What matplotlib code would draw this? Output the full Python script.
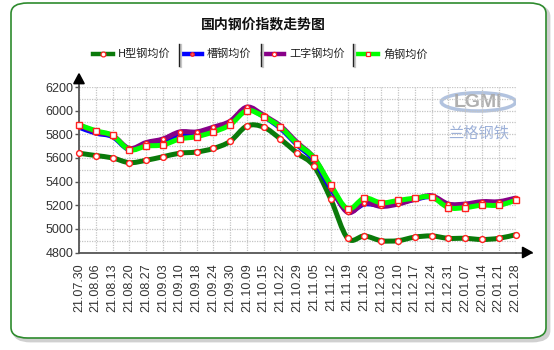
import matplotlib
matplotlib.use("Agg")
import matplotlib.pyplot as plt
from matplotlib.patches import FancyBboxPatch, PathPatch, Ellipse, Polygon
from matplotlib.path import Path
from matplotlib.lines import Line2D
import numpy as np

plt.rcParams['font.family'] = ['Liberation Sans', 'Noto Sans CJK SC', 'DejaVu Sans']

# ---- data ----
dates = ['21.07.30', '21.08.06', '21.08.13', '21.08.20', '21.08.27', '21.09.03',
         '21.09.10', '21.09.18', '21.09.24', '21.09.30', '21.10.09', '21.10.15',
         '21.10.22', '21.10.29', '21.11.05', '21.11.12', '21.11.19', '21.11.26',
         '21.12.03', '21.12.10', '21.12.17', '21.12.24', '21.12.31', '22.01.07',
         '22.01.14', '22.01.21', '22.01.28']
h_beam = [5640, 5620, 5600, 5560, 5580, 5610, 5640, 5650, 5680, 5740, 5870, 5860,
          5760, 5640, 5530, 5250, 4920, 4940, 4900, 4900, 4930, 4940, 4920, 4920,
          4910, 4920, 4950]
channel = [5860, 5810, 5780, 5670, 5720, 5740, 5800, 5800, 5840, 5900, 6010, 5950,
           5850, 5710, 5580, 5340, 5150, 5210, 5200, 5220, 5250, 5270, 5200, 5200,
           5220, 5220, 5250]
i_beam = [5880, 5820, 5790, 5680, 5730, 5760, 5820, 5820, 5860, 5910, 6030, 5960,
          5870, 5730, 5600, 5360, 5140, 5220, 5190, 5210, 5250, 5280, 5210, 5210,
          5230, 5230, 5260]
angle = [5880, 5830, 5790, 5670, 5700, 5710, 5760, 5780, 5820, 5880, 6000, 5950,
         5860, 5720, 5600, 5370, 5170, 5260, 5220, 5240, 5260, 5270, 5180, 5180,
         5200, 5200, 5240]
series_names = ['H型钢均价', '槽钢均价', '工字钢均价', '角钢均价']
title = '国内钢价指数走势图'
y_ticks = [4800, 5000, 5200, 5400, 5600, 5800, 6000, 6200]

W, H = 554, 350
fig = plt.figure(figsize=(W / 100, H / 100), dpi=100)
fig.patch.set_facecolor('white')


def fx(x):
    return x / W


def fy(y):
    return 1 - y / H


# rounded frame with soft shadow
shadow = FancyBboxPatch((fx(14), fy(341)), fx(535), 335 / H,
                        boxstyle="round,pad=0,rounding_size=0.03",
                        transform=fig.transFigure, facecolor='#d0d0d0',
                        edgecolor='#d0d0d0', lw=2, zorder=0)
fig.add_artist(shadow)
frame = FancyBboxPatch((fx(11), fy(338)), fx(535), 335 / H,
                       boxstyle="round,pad=0,rounding_size=0.03",
                       transform=fig.transFigure, facecolor='white',
                       edgecolor='#2e8b2e', lw=1.2, zorder=1)
fig.add_artist(frame)

# title
fig.text(fx(263), fy(24.5), title, ha='center', va='center', fontsize=10,
         fontweight='bold', family=['Noto Sans CJK SC', 'DejaVu Sans'], color='#111111')

# axes
x0, x1, ytop, ybot = 79, 515.5, 87, 252.5
ax = fig.add_axes([fx(x0), fy(ybot), (x1 - x0) / W, (ybot - ytop) / H])
ax.set_facecolor('none')
ax.set_zorder(2)
ax.set_xlim(0, len(dates) - 1)
ax.set_ylim(4800, 6200)

x = np.arange(len(dates))
ax.set_xticks(x)
ax.set_xticklabels(dates, rotation=90, fontsize=9, color='#333333')
ax.set_yticks(y_ticks)
ax.set_yticklabels([str(v) for v in y_ticks], fontsize=9, color='#333333')
ax.set_yticks(np.arange(4800, 6201, 100), minor=True)
ax.tick_params(axis='x', length=0, pad=8)
ax.tick_params(axis='y', which='major', length=3, width=1, color='#555555', pad=1)
ax.tick_params(axis='y', which='minor', length=0)
ax.grid(True, which='both', axis='y', color='#c4c4c4', linestyle=(0, (1, 1)), lw=0.9)
ax.grid(True, which='major', axis='x', color='#c4c4c4', linestyle=(0, (1, 1)), lw=0.9)
for s in ['top', 'right']:
    ax.spines[s].set_visible(False)
for s in ['left', 'bottom']:
    ax.spines[s].set_color('#555555')
    ax.spines[s].set_linewidth(1.3)

# axis arrows
ax.plot([1, 1.037], [0, 0], transform=ax.transAxes, color='#555555', lw=1.3, clip_on=False)
ax.plot([0, 0], [1, 1.075], transform=ax.transAxes, color='#555555', lw=1.3, clip_on=False)
ax.add_patch(Polygon([(1.016, -0.032), (1.016, 0.032), (1.038, 0)], closed=True,
                     transform=ax.transAxes, color='black', clip_on=False, zorder=5))
ax.add_patch(Polygon([(-0.012, 1.02), (0.012, 1.02), (0, 1.08)], closed=True,
                     transform=ax.transAxes, color='black', clip_on=False, zorder=5))

# watermark
ax.add_patch(Ellipse((0.915, 0.91), 0.17, 0.11, transform=ax.transAxes,
                     facecolor='none', edgecolor='#9fb4d8', lw=2.5, alpha=0.8, zorder=1))
ax.text(0.915, 0.905, 'LGMI', transform=ax.transAxes, ha='center', va='center',
        fontsize=14, fontweight='bold', color='#a8a8a8', alpha=0.9, zorder=1)
ax.text(0.915, 0.72, '兰格钢铁', transform=ax.transAxes, ha='center', va='center',
        fontsize=11, color='#9cb0d8', family=['Noto Sans CJK SC'], zorder=1)


def smooth_path(xs, ys, k=1 / 6):
    pts = np.column_stack([xs, ys]).astype(float)
    verts = [pts[0]]
    codes = [Path.MOVETO]
    n = len(pts)
    for i in range(n - 1):
        p0 = pts[max(i - 1, 0)]
        p1 = pts[i]
        p2 = pts[i + 1]
        p3 = pts[min(i + 2, n - 1)]
        c1 = p1 + (p2 - p0) * k
        c2 = p2 - (p3 - p1) * k
        verts += [c1, c2, p2]
        codes += [Path.CURVE4] * 3
    return Path(verts, codes)


styles = [
    (h_beam, '#0a7a0a', 'o', 4.2, 'white'),
    (channel, '#0000ff', 'o', 2.5, '#ff6060'),
    (i_beam, '#880088', 'o', 3.0, 'white'),
    (angle, '#00ff00', 's', 4.5, 'white'),
]
for z, (vals, col, mk, ms, mfc) in enumerate(styles):
    ax.add_patch(PathPatch(smooth_path(x, vals), facecolor='none', edgecolor=col,
                           lw=3.6, capstyle='round', joinstyle='round', zorder=3 + z))
for z, (vals, col, mk, ms, mfc) in enumerate(styles):
    ax.plot(x, vals, linestyle='none', marker=mk, ms=ms, mfc=mfc, mec='#ff2020',
            mew=1.0, zorder=8 + z, clip_on=False)

# legend
leg_y = 54
items = [(93, 113, 118), (182, 202, 207), (263, 284, 289), (358, 378, 383)]
for (lx0, lx1, tx), (vals, col, mk, ms, mfc), name in zip(items, styles, series_names):
    fig.add_artist(Line2D([fx(lx0), fx(lx1)], [fy(leg_y), fy(leg_y)], color=col, lw=3.2,
                          transform=fig.transFigure, zorder=3))
    fig.add_artist(Line2D([fx((lx0 + lx1) / 2)], [fy(leg_y)], marker=mk,
                          ms=min(ms, 3.5), mfc=mfc, mec='#ff2020', mew=0.9,
                          transform=fig.transFigure, zorder=4))
    fig.text(fx(tx), fy(leg_y), name, ha='left', va='center', fontsize=8,
             family=['Noto Sans CJK SC', 'DejaVu Sans'], color='#222222', zorder=4)
for sx in [179, 261, 353]:
    fig.add_artist(Line2D([fx(sx + 1.5), fx(sx + 1.5)], [fy(45), fy(67)], color='#c8c8c8',
                          lw=1.6, transform=fig.transFigure, zorder=3))
    fig.add_artist(Line2D([fx(sx), fx(sx)], [fy(44), fy(66)], color='#222222',
                          lw=1.0, transform=fig.transFigure, zorder=4))

fig.savefig('out.png', dpi=100, facecolor='white')
